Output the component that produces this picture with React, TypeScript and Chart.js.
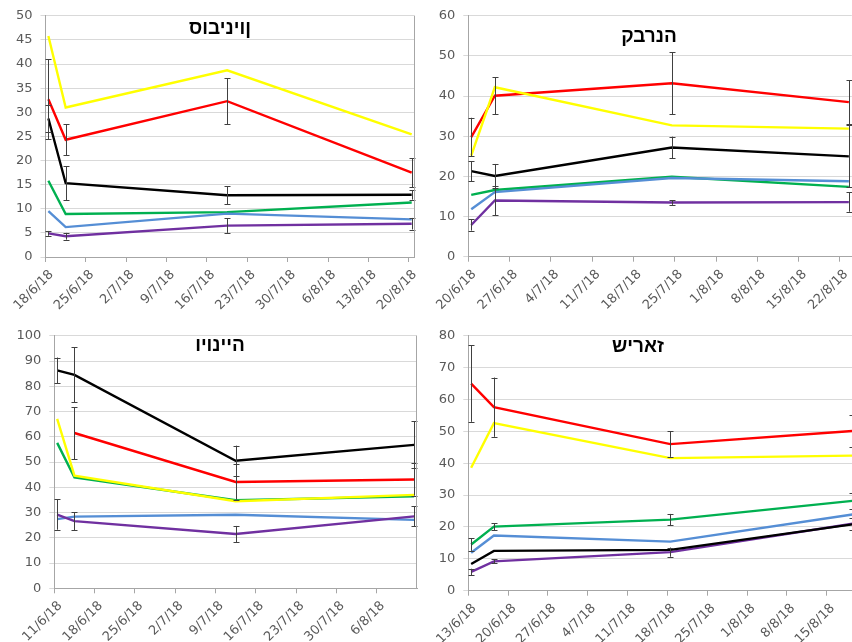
import React, { useEffect, useRef } from "react";
import { Chart, registerables } from "chart.js";

Chart.register(...registerables);

// Line colours shared by all four varieties
const YELLOW = "#FFFF00";
const RED = "#FF0000";
const BLACK = "#000000";
const GREEN = "#00B050";
const BLUE = "#558ED5";
const PURPLE = "#7030A0";

// ---- סוביניון ----
const sauvDates = ["2018-06-18", "2018-06-21", "2018-07-19", "2018-08-20"];
const sauvAxis = ["2018-06-18", "2018-08-21"];
const sauvYellow = [45.8, 31.0, 38.7, 25.4];
const sauvRed = [32.7, 24.3, 32.3, 17.5];
const sauvRedErr = [8.3, 3.2, 4.8, 3.0];
const sauvBlack = [28.7, 15.3, 12.8, 12.9];
const sauvBlackErr = [2.8, 3.5, 1.9, 1.0];
const sauvGreen = [15.8, 8.9, 9.3, 11.3];
const sauvBlue = [9.5, 6.2, 9.0, 7.8];
const sauvPurple = [4.9, 4.3, 6.5, 6.9];
const sauvPurpleErr = [0.5, 0.7, 1.5, 1.2];

// ---- קברנה ----
const cabDates = ["2018-06-20", "2018-06-24", "2018-07-24", "2018-08-23"];
const cabAxis = ["2018-06-20", "2018-08-24"];
const cabYellow = [25.2, 42.2, 32.7, 31.9];
const cabRed = [29.8, 40.1, 43.2, 38.5];
const cabRedErr = [4.8, 4.6, 7.7, 5.5];
const cabBlack = [21.3, 20.1, 27.2, 25.0];
const cabBlackErr = [2.5, 3.0, 2.7, 7.7];
const cabGreen = [15.4, 16.6, 19.9, 17.4];
const cabBlue = [11.8, 16.1, 19.6, 18.8];
const cabPurple = [7.9, 14.0, 13.5, 13.6];
const cabPurpleErr = [1.4, 3.7, 0.6, 2.4];

// ---- ויונייה ----
const viogDates = ["2018-06-11", "2018-06-14", "2018-07-12", "2018-08-12"];
const viogAxis = ["2018-06-11", "2018-08-13"];
const viogYellow = [67.1, 44.6, 34.5, 37.0];
const viogRed = [null, 61.5, 42.1, 43.1];
const viogRedErr = [null, 10.3, 7.0, 6.4];
const viogBlack = [86.3, 84.5, 50.5, 56.8];
const viogBlackErr = [5.1, 10.9, 6.0, 9.3];
const viogGreen = [57.6, 43.9, 34.9, 36.4];
const viogBlue = [27.4, 28.4, 29.1, 27.1];
const viogPurple = [29.2, 26.6, 21.5, 28.5];
const viogPurpleErr = [6.0, 3.6, 3.2, 4.0];

// ---- שיראז ----
const shirDates = ["2018-06-13", "2018-06-17", "2018-07-18", "2018-08-19"];
const shirAxis = ["2018-06-13", "2018-08-20"];
const shirRed = [65.0, 57.6, 46.0, 50.1];
const shirRedErr = [12.0, 9.3, 4.0, 5.0];
const shirYellow = [38.6, 52.6, 41.6, 42.4];
const shirGreen = [14.5, 20.1, 22.3, 28.2];
const shirGreenErr = [2.0, 1.1, 1.8, 2.6];
const shirBlue = [11.9, 17.3, 15.4, 23.9];
const shirBlack = [8.4, 12.5, 12.8, 20.8];
const shirPurple = [5.9, 9.2, 12.1, 21.0];
const shirPurpleErr = [1.0, 0.6, 1.45, 1.8];

type Series = { color: string; values: (number | null)[]; errors?: (number | null)[] };
type Box = { left: number; top: number; width: number; height: number };
type Plot = { left: number; top: number; right: number; bottom: number };
type Panel = {
  title: string;
  dates: string[];
  axis: string[];
  yMax: number;
  yStep: number;
  series: Series[];
  box: Box;
  plot: Plot;
  titleAt: { x: number; y: number };
  rightBorder: boolean;
};

const DAY = 86400000;
const WEEK = 7;
const dayIndex = (d: string, start: string) => (Date.parse(d) - Date.parse(start)) / DAY;

const tickLabel = (start: string, offset: number) => {
  const t = new Date(Date.parse(start) + offset * DAY);
  const yy = String(t.getUTCFullYear()).slice(-2);
  return `${t.getUTCDate()}/${t.getUTCMonth() + 1}/${yy}`;
};

const PANELS: Panel[] = [
  {
    title: "סוביניון",
    dates: sauvDates,
    axis: sauvAxis,
    yMax: 50,
    yStep: 5,
    series: [
      { color: YELLOW, values: sauvYellow },
      { color: BLACK, values: sauvBlack, errors: sauvBlackErr },
      { color: RED, values: sauvRed, errors: sauvRedErr },
      { color: BLUE, values: sauvBlue },
      { color: GREEN, values: sauvGreen },
      { color: PURPLE, values: sauvPurple, errors: sauvPurpleErr },
    ],
    box: { left: 0, top: 0, width: 425, height: 320 },
    plot: { left: 45.5, top: 15, right: 415, bottom: 257 },
    titleAt: { x: 220, y: 34 },
    rightBorder: true,
  },
  {
    title: "קברנה",
    dates: cabDates,
    axis: cabAxis,
    yMax: 60,
    yStep: 10,
    series: [
      { color: YELLOW, values: cabYellow },
      { color: RED, values: cabRed, errors: cabRedErr },
      { color: BLACK, values: cabBlack, errors: cabBlackErr },
      { color: BLUE, values: cabBlue },
      { color: GREEN, values: cabGreen },
      { color: PURPLE, values: cabPurple, errors: cabPurpleErr },
    ],
    box: { left: 425, top: 0, width: 440, height: 320 },
    plot: { left: 468.3, top: 15, right: 851.8, bottom: 256.7 },
    titleAt: { x: 649, y: 41.5 },
    rightBorder: false,
  },
  {
    title: "ויונייה",
    dates: viogDates,
    axis: viogAxis,
    yMax: 100,
    yStep: 10,
    series: [
      { color: BLACK, values: viogBlack, errors: viogBlackErr },
      { color: RED, values: viogRed, errors: viogRedErr },
      { color: YELLOW, values: viogYellow },
      { color: GREEN, values: viogGreen },
      { color: PURPLE, values: viogPurple, errors: viogPurpleErr },
      { color: BLUE, values: viogBlue },
    ],
    box: { left: 0, top: 320, width: 425, height: 322 },
    plot: { left: 54.3, top: 332.7, right: 417, bottom: 588.3 },
    titleAt: { x: 220, y: 350.5 },
    rightBorder: true,
  },
  {
    title: "שיראז",
    dates: shirDates,
    axis: shirAxis,
    yMax: 80,
    yStep: 10,
    series: [
      { color: RED, values: shirRed, errors: shirRedErr },
      { color: YELLOW, values: shirYellow },
      { color: GREEN, values: shirGreen, errors: shirGreenErr },
      { color: BLUE, values: shirBlue },
      { color: BLACK, values: shirBlack },
      { color: PURPLE, values: shirPurple, errors: shirPurpleErr },
    ],
    box: { left: 425, top: 320, width: 440, height: 322 },
    plot: { left: 468.3, top: 329.3, right: 855.2, bottom: 590.7 },
    titleAt: { x: 638, y: 352 },
    rightBorder: false,
  },
];

const TICK_FONT = { family: "'DejaVu Sans', Verdana, sans-serif", size: 13 };
const TICK_COLOR = "#595959";
const AXIS_COLOR = "#a6a6a6";
const GRID_COLOR = "#d9d9d9";

// Vertical error bars with small caps, drawn over the lines
const errorBarsPlugin = {
  id: "errorBars",
  afterDatasetsDraw(chart: any) {
    const ctx = chart.ctx;
    const xs = chart.scales.x;
    const ys = chart.scales.y;
    ctx.save();
    ctx.strokeStyle = "#404040";
    ctx.lineWidth = 1;
    chart.data.datasets.forEach((ds: any) => {
      if (!ds.errorBars) return;
      ds.data.forEach((p: any, i: number) => {
        const e = ds.errorBars[i];
        if (e == null || p.y == null) return;
        const x = Math.round(xs.getPixelForValue(p.x)) + 0.5;
        const y1 = ys.getPixelForValue(p.y + e);
        const y2 = ys.getPixelForValue(Math.max(0, p.y - e));
        ctx.beginPath();
        ctx.moveTo(x, y1);
        ctx.lineTo(x, y2);
        ctx.moveTo(x - 3, Math.round(y1) + 0.5);
        ctx.lineTo(x + 3, Math.round(y1) + 0.5);
        ctx.moveTo(x - 3, Math.round(y2) + 0.5);
        ctx.lineTo(x + 3, Math.round(y2) + 0.5);
        ctx.stroke();
      });
    });
    ctx.restore();
  },
};

// Right-hand edge of the plot area
const plotEdgePlugin = {
  id: "plotEdge",
  afterDraw(chart: any, _args: any, opts: any) {
    if (!opts.show) return;
    const ctx = chart.ctx;
    const area = chart.chartArea;
    ctx.save();
    ctx.strokeStyle = AXIS_COLOR;
    ctx.lineWidth = 1;
    const x = Math.round(area.right) - 0.5;
    ctx.beginPath();
    ctx.moveTo(x, area.top);
    ctx.lineTo(x, area.bottom);
    ctx.stroke();
    ctx.restore();
  },
};

function PanelChart({ panel }: { panel: Panel }) {
  const ref = useRef<HTMLCanvasElement | null>(null);

  useEffect(() => {
    if (!ref.current) return;
    const { box, plot, dates, axis } = panel;
    const start = axis[0];
    const span = dayIndex(axis[1], start);
    // each date sits in the middle of its day slot
    const xs = dates.map((d) => dayIndex(d, start) + 0.5);

    const datasets = panel.series.map((s) => {
      const pts: { x: number; y: number }[] = [];
      const errs: (number | null)[] = [];
      s.values.forEach((v, i) => {
        if (v == null) return;
        pts.push({ x: xs[i], y: v });
        errs.push(s.errors ? s.errors[i] ?? null : null);
      });
      return {
        data: pts,
        borderColor: s.color,
        backgroundColor: s.color,
        borderWidth: 2.4,
        pointRadius: 0,
        tension: 0,
        fill: false,
        errorBars: s.errors ? errs : undefined,
      };
    });

    const yWidth = plot.left - box.left;
    const xHeight = box.top + box.height - plot.bottom;

    const chart = new Chart(ref.current, {
      type: "line",
      data: { datasets } as any,
      options: {
        responsive: false,
        animation: false,
        events: [],
        layout: {
          padding: {
            top: plot.top - box.top,
            right: box.left + box.width - plot.right,
            left: 0,
            bottom: 0,
          },
        },
        plugins: {
          legend: { display: false },
          tooltip: { enabled: false },
          plotEdge: { show: panel.rightBorder },
        } as any,
        scales: {
          x: {
            type: "linear",
            min: 0,
            max: span,
            bounds: "data",
            grid: { drawOnChartArea: false, drawTicks: true, tickLength: 5, color: AXIS_COLOR },
            border: { color: AXIS_COLOR },
            afterBuildTicks: (s: any) => {
              s.ticks = s.ticks.filter((t: any) => t.value % WEEK === 0 && t.value < span);
            },
            ticks: {
              stepSize: WEEK,
              autoSkip: false,
              minRotation: 45,
              maxRotation: 45,
              padding: 5,
              labelOffset: 6,
              font: TICK_FONT,
              color: TICK_COLOR,
              callback: (v: any) => tickLabel(start, Number(v)),
            },
            afterFit: (s: any) => {
              s.height = xHeight;
            },
          } as any,
          y: {
            type: "linear",
            min: 0,
            max: panel.yMax,
            grid: { color: GRID_COLOR, tickLength: 5 },
            border: { color: AXIS_COLOR },
            ticks: {
              stepSize: panel.yStep,
              padding: 8,
              font: TICK_FONT,
              color: TICK_COLOR,
            },
            afterFit: (s: any) => {
              s.width = yWidth;
            },
          } as any,
        },
      },
      plugins: [errorBarsPlugin, plotEdgePlugin],
    });

    return () => chart.destroy();
  }, [panel]);

  const { box } = panel;
  return (
    <div
      style={{
        position: "absolute",
        left: box.left,
        top: box.top,
        width: box.width,
        height: box.height,
      }}
    >
      <canvas
        ref={ref}
        width={box.width}
        height={box.height}
        style={{ display: "block", width: box.width, height: box.height }}
      />
      <div
        style={{
          position: "absolute",
          left: panel.titleAt.x - box.left,
          top: panel.titleAt.y - box.top - 15.8,
          transform: "translateX(-50%)",
          direction: "ltr",
          unicodeBidi: "bidi-override",
          fontFamily: "'Liberation Sans', Arial, sans-serif",
          fontWeight: "bold",
          fontSize: 19,
          lineHeight: "19px",
          whiteSpace: "nowrap",
          color: "#000",
        }}
      >
        {panel.title}
      </div>
    </div>
  );
}

export default function App() {
  return (
    <div
      style={{
        position: "fixed",
        left: 0,
        top: 0,
        width: 852,
        height: 642,
        overflow: "hidden",
        background: "#ffffff",
      }}
    >
      {PANELS.map((p) => (
        <PanelChart key={p.title} panel={p} />
      ))}
    </div>
  );
}
